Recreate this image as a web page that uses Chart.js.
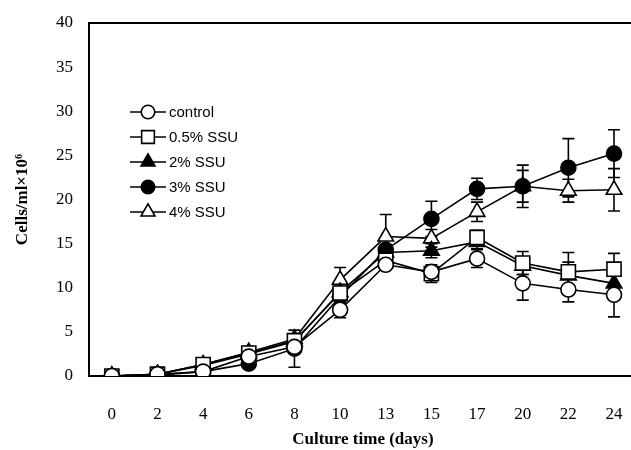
<!DOCTYPE html>
<html>
<head>
<meta charset="utf-8">
<script src="https://cdn.jsdelivr.net/npm/chart.js@4.4.1/dist/chart.umd.min.js"></script>
<style>
  body { margin: 0; overflow: hidden; background: #fff; }
</style>
</head>
<body>
<canvas id="myChart" width="651" height="450"></canvas>
<script>
const days = ["0", "2", "4", "6", "8", "10", "13", "15", "17", "20", "22", "24"];
const seriesNames = ["control", "0.5% SSU", "2% SSU", "3% SSU", "4% SSU"];

const control = [0, 0.2, 0.5, 2.2, 3.3, 7.5, 12.6, 11.8, 13.3, 10.5, 9.8, 9.2];
const ssu05 = [0, 0.2, 1.3, 2.6, 4.0, 9.4, 13.1, 11.6, 15.7, 12.8, 11.8, 12.1];
const ssu2 = [0, 0.2, 1.2, 2.5, 3.9, 9.5, 14.0, 14.2, 15.2, 12.5, 11.4, 10.5];
const ssu3 = [0, 0.1, 0.5, 1.4, 3.1, 9.0, 14.3, 17.8, 21.2, 21.5, 23.6, 25.2];
const ssu4 = [0, 0.2, 1.3, 2.7, 4.2, 10.9, 15.8, 15.6, 18.6, 21.5, 21.0, 21.1];

const errControl = [0, 0, 0, 0.3, 0.5, 0.9, 0.5, 0.6, 1.0, 1.9, 1.4, 2.5];
const err05 = [0, 0, 0.2, 0.3, 0.4, 0.6, 0.6, 1.0, 0.8, 1.3, 2.2, 1.8];
const err2 = [0, 0, 0, 0.3, 0.5, 0.6, 0.6, 0.8, 0.8, 1.0, 1.5, 1.0];
const err3 = [0, 0, 0.2, 0.3, 2.1, 0.8, 0.6, 2.0, 1.2, 2.4, 3.3, 2.7];
const err4 = [0, 0, 0.2, 0.3, 0.5, 1.4, 2.5, 1.0, 1.1, 1.8, 1.3, 2.4];

const yTicks = [0, 5, 10, 15, 20, 25, 30, 35, 40];

const seriesData = [control, ssu05, ssu2, ssu3, ssu4];
const seriesErr = [errControl, err05, err2, err3, err4];
const shapes = ["circle", "rect", "triangle", "circle", "triangle"];
const fills = ["#fff", "#fff", "#000", "#000", "#fff"];
const radii = [7.5, 10, 9, 7.5, 9];

const datasets = seriesNames.map((name, i) => ({
  label: name,
  data: seriesData[i],
  errors: seriesErr[i],
  borderColor: "#000",
  borderWidth: 1.6,
  pointStyle: shapes[i],
  pointRadius: radii[i],
  pointBackgroundColor: fills[i],
  pointBorderColor: "#000",
  pointBorderWidth: 1.6,
  tension: 0,
}));

// error bars drawn under the markers
const errorBars = {
  id: "errorBars",
  beforeDatasetsDraw(chart) {
    const c = chart.ctx;
    const y = chart.scales.y;
    c.save();
    c.strokeStyle = "#000";
    c.lineWidth = 1.6;
    chart.data.datasets.forEach((ds, i) => {
      const meta = chart.getDatasetMeta(i);
      meta.data.forEach((pt, j) => {
        const e = ds.errors[j];
        if (!e) return;
        const top = y.getPixelForValue(ds.data[j] + e);
        const bot = y.getPixelForValue(ds.data[j] - e);
        c.beginPath();
        c.moveTo(pt.x, top); c.lineTo(pt.x, bot);
        c.moveTo(pt.x - 6, top); c.lineTo(pt.x + 6, top);
        c.moveTo(pt.x - 6, bot); c.lineTo(pt.x + 6, bot);
        c.stroke();
      });
    });
    c.restore();
  },
};

// top frame line and legend inside the plot
const frameAndLegend = {
  id: "frameAndLegend",
  afterDraw(chart) {
    const c = chart.ctx;
    const a = chart.chartArea;
    c.save();
    c.strokeStyle = "#000";
    c.lineWidth = 2;
    c.beginPath();
    c.moveTo(a.left - 1, a.top);
    c.lineTo(a.right + 10, a.top);
    c.stroke();

    c.font = "15px 'Liberation Sans', Arial, sans-serif";
    c.textBaseline = "middle";
    chart.data.datasets.forEach((ds, i) => {
      const ly = 112 + i * 25;
      c.strokeStyle = "#000";
      c.lineWidth = 1.6;
      c.beginPath();
      c.moveTo(130, ly); c.lineTo(166, ly);
      c.stroke();
      c.fillStyle = ds.pointBackgroundColor;
      Chart.helpers.drawPoint(c, { pointStyle: ds.pointStyle, radius: ds.pointRadius * 0.9, borderWidth: 1.6 }, 148, ly);
      c.fillStyle = "#000";
      c.fillText(ds.label, 169, ly + 1);
    });
    c.restore();
  },
};

new Chart(document.getElementById("myChart"), {
  type: "line",
  data: { labels: days, datasets: datasets },
  plugins: [errorBars, frameAndLegend],
  options: {
    responsive: false,
    animation: false,
    layout: { padding: { top: 23, right: 4, left: 0, bottom: 0 } },
    plugins: { legend: { display: false }, tooltip: { enabled: false } },
    scales: {
      x: {
        offset: true,
        grid: { display: false, drawTicks: false, offset: true },
        border: { display: true, color: "#000", width: 2 },
        ticks: {
          color: "#000",
          padding: 28,
          maxRotation: 0,
          font: { family: "'Liberation Serif', 'Times New Roman', serif", size: 17 },
        },
        title: {
          display: true,
          text: "Culture time (days)",
          color: "#000",
          padding: { top: 0, bottom: 0 },
          font: { family: "'Liberation Serif', 'Times New Roman', serif", size: 17, weight: "bold" },
        },
        afterFit: (s) => { s.height = 74; },
      },
      y: {
        min: 0,
        max: 40,
        afterBuildTicks: (s) => { s.ticks = yTicks.map((v) => ({ value: v })); },
        grid: { display: false, drawTicks: true, tickLength: 14 },
        border: { display: true, color: "#000", width: 2 },
        ticks: {
          color: "#000",
          padding: 2,
          font: { family: "'Liberation Serif', 'Times New Roman', serif", size: 17 },
        },
        title: {
          display: true,
          text: "Cells/ml×10⁶",
          color: "#000",
          padding: { top: 12, bottom: 0 },
          font: { family: "'Liberation Serif', 'Times New Roman', serif", size: 17, weight: "bold" },
        },
        afterFit: (s) => { s.width = 89; },
      },
    },
  },
});
</script>
</body>
</html>
